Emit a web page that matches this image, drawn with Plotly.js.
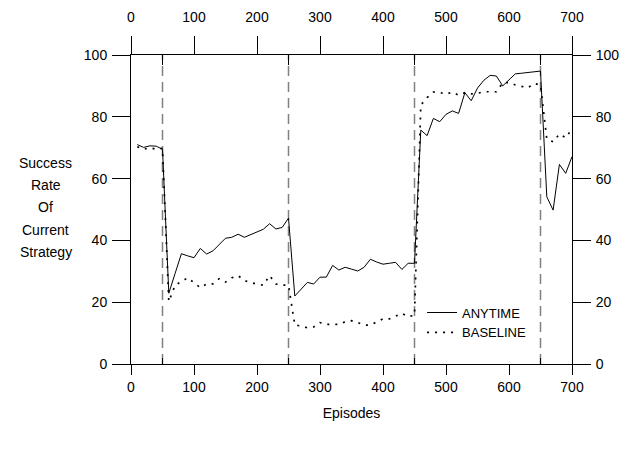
<!DOCTYPE html>
<html>
<head>
<meta charset="utf-8">
<script src="https://cdn.plot.ly/plotly-3.0.1.min.js"></script>
<style>
  html, body { margin: 0; padding: 0; background: #fff; }
  #chart { width: 625px; height: 450px; }
</style>
</head>
<body>
<div id="chart"></div>
<script>
// ---- data ----
const episodes = [10, 20, 30, 40, 50, 60, 70, 80, 90, 100,
  110, 120, 130, 140, 150, 160, 170, 180, 190, 200,
  210, 220, 230, 240, 250, 260, 270, 280, 290, 300,
  310, 320, 330, 340, 350, 360, 370, 380, 390, 400,
  410, 420, 430, 440, 450, 460, 470, 480, 490, 500,
  510, 520, 530, 540, 550, 560, 570, 580, 590, 600,
  610, 620, 630, 640, 650, 660, 670, 680, 690, 700];

const anytime = [71.0, 70.1, 70.6, 70.5, 69.5, 22.9, 29.3, 35.7, 35.0, 34.4,
  37.4, 35.6, 36.6, 38.7, 40.7, 41.0, 42.0, 41.0, 41.9, 42.8,
  43.6, 45.4, 43.7, 44.2, 47.2, 22.0, 24.2, 26.4, 25.9, 28.1,
  28.1, 31.9, 30.4, 31.3, 30.7, 30.1, 31.3, 33.9, 33.0, 32.3,
  32.6, 32.9, 30.6, 32.6, 32.6, 75.7, 73.9, 79.5, 78.4, 80.8,
  81.9, 81.1, 87.8, 85.2, 89.3, 91.8, 93.4, 93.2, 90.0, 91.9,
  93.9, 94.1, 94.3, 94.5, 94.8, 54.1, 49.8, 64.6, 61.7, 67.1];

const baseline = [70.3, 69.5, 70.0, 69.5, 69.8, 20.2, 25.5, 26.6, 27.9, 26.3,
  24.7, 25.9, 25.9, 27.6, 26.5, 27.9, 28.6, 27.0, 26.3, 25.9,
  25.5, 28.6, 25.9, 25.5, 25.5, 12.6, 12.3, 11.7, 12.0, 13.4,
  12.8, 12.8, 12.8, 13.7, 14.0, 13.4, 12.6, 12.6, 13.7, 14.6,
  14.6, 15.5, 16.4, 15.3, 15.8, 83.8, 86.2, 88.0, 87.9, 87.3,
  88.0, 87.0, 87.8, 87.4, 87.6, 88.1, 88.1, 88.1, 91.0, 91.1,
  90.3, 89.8, 89.4, 90.8, 90.3, 72.8, 71.9, 74.4, 73.2, 76.1];

const seriesNames = ["ANYTIME", "BASELINE"];
const switchEpisodes = [50, 250, 450, 650];
const xTickVals = [0, 100, 200, 300, 400, 500, 600, 700];
const yTickVals = [0, 20, 40, 60, 80, 100];
const yTitleLines = ["Success", "Rate", "Of", "Current", "Strategy"];
const xTitle = "Episodes";

// ---- styling ----
const FONT = "Liberation Sans, Arial, sans-serif";
const fontTick = { family: FONT, size: 14, color: "#000" };

const traces = [
  {
    x: episodes, y: anytime, name: seriesNames[0],
    type: "scatter", mode: "lines",
    line: { color: "#000", width: 1 },
    xaxis: "x", yaxis: "y"
  },
  {
    x: episodes, y: baseline, name: seriesNames[1],
    type: "scatter", mode: "lines",
    line: { color: "#000", width: 1.7, dash: "2px,6px" },
    xaxis: "x", yaxis: "y"
  }
];

const shapes = switchEpisodes.map(e => ({
  type: "line", xref: "x", yref: "paper",
  x0: e, x1: e, y0: 0, y1: 1,
  line: { color: "#808080", width: 1.5, dash: "10px,6px" },
  layer: "below"
}));

const annotations = yTitleLines.map((t, i) => ({
  text: t, xref: "paper", yref: "paper",
  x: -0.193, y: (364 - (163 + i * 22.2)) / 309,
  xanchor: "center", yanchor: "middle", showarrow: false,
  font: { family: FONT, size: 14, color: "#000" }
}));

const commonX = {
  range: [0, 700], tickvals: xTickVals, ticktext: xTickVals.map(String),
  ticks: "outside", tickwidth: 1, tickcolor: "#000",
  showgrid: false, zeroline: false, tickfont: fontTick
};
const commonY = {
  range: [0, 100], tickvals: yTickVals, ticktext: yTickVals.map(String),
  ticks: "outside", ticklen: 18, tickwidth: 1, tickcolor: "#000",
  showgrid: false, zeroline: false, tickfont: fontTick,
  ticklabelstandoff: 2
};

const layout = {
  width: 625, height: 450,
  margin: { l: 131, r: 53, t: 55, b: 86, pad: 0 },
  paper_bgcolor: "#fff", plot_bgcolor: "#fff",
  font: { family: FONT, size: 14, color: "#000" },
  showlegend: true,
  legend: {
    x: 0.66, y: 0.215, xanchor: "left", yanchor: "top",
    bgcolor: "rgba(0,0,0,0)", borderwidth: 0,
    font: { family: FONT, size: 13, color: "#000" },
    itemwidth: 30, tracegroupgap: 0
  },
  xaxis: Object.assign({}, commonX, {
    side: "bottom", showline: true, linecolor: "#000", linewidth: 1, mirror: true,
    ticklen: 10, ticklabelstandoff: 0,
    minor: { tickvals: switchEpisodes, ticks: "inside", ticklen: 6, tickcolor: "#000", tickwidth: 1 },
    title: { text: xTitle, font: { family: FONT, size: 14, color: "#000" }, standoff: 14 }
  }),
  xaxis2: Object.assign({}, commonX, {
    side: "top", overlaying: "x", anchor: "y", showline: false,
    ticklen: 18, ticklabelstandoff: 8,
    minor: { tickvals: switchEpisodes, ticks: "inside", ticklen: 10, tickcolor: "#000", tickwidth: 1 }
  }),
  yaxis: Object.assign({}, commonY, {
    side: "left", showline: true, linecolor: "#000", linewidth: 1, mirror: true
  }),
  yaxis2: Object.assign({}, commonY, {
    side: "right", overlaying: "y", anchor: "x", showline: false
  }),
  shapes: shapes,
  annotations: annotations
};

// empty helper trace so that the top and right axes are drawn
traces.push({ x: [], y: [], xaxis: "x2", yaxis: "y2", type: "scatter", mode: "lines", showlegend: false, hoverinfo: "skip" });

Plotly.newPlot("chart", traces, layout, { staticPlot: true, displayModeBar: false });
</script>
</body>
</html>
